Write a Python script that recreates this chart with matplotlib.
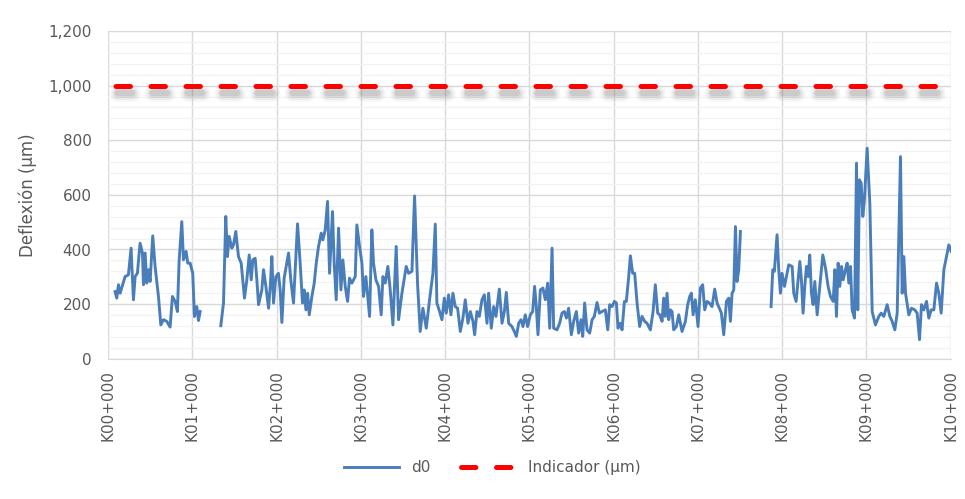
import numpy as np
import matplotlib
matplotlib.use('Agg')
import matplotlib.pyplot as plt
import matplotlib.transforms as mtransforms
from matplotlib.lines import Line2D
from matplotlib.ticker import MultipleLocator, FuncFormatter

plt.rcParams['lines.scale_dashes'] = False

# chainage (km) and deflection d0 (um); nan = no data
km = [0.083, 0.103, 0.123, 0.143, 0.202, 0.241, 0.273, 0.301, 0.321, 0.348,
      0.380, 0.408, 0.420, 0.440, 0.459, 0.479, 0.499, 0.530, 0.558, 0.598,
      0.626, 0.657, 0.697, 0.736, 0.764, 0.796, 0.823, 0.843, 0.875, 0.895,
      0.926, 0.946, 0.974, 1.005, 1.025, 1.053, 1.073, 1.093, 1.200,
      1.338, 1.370, 1.397, 1.417, 1.437, 1.469, 1.489, 1.516, 1.548, 1.580,
      1.619, 1.647, 1.675, 1.699, 1.718, 1.746, 1.766, 1.786, 1.825, 1.845,
      1.873, 1.905, 1.925, 1.944, 1.964, 1.992, 2.022, 2.043, 2.063, 2.090,
      2.114, 2.142, 2.169, 2.201, 2.221, 2.249, 2.280, 2.308, 2.328, 2.348,
      2.368, 2.388, 2.419, 2.447, 2.471, 2.498, 2.530, 2.549, 2.577, 2.605,
      2.629, 2.664, 2.684, 2.708, 2.736, 2.764, 2.787, 2.815, 2.843, 2.866,
      2.894, 2.934, 2.953, 2.985, 3.013, 3.032, 3.060, 3.104, 3.131, 3.151,
      3.179, 3.211, 3.242, 3.262, 3.290, 3.321, 3.349, 3.381, 3.420, 3.448,
      3.488, 3.539, 3.567, 3.607, 3.638, 3.674, 3.705, 3.737, 3.777, 3.816,
      3.856, 3.884, 3.903, 3.935, 3.963, 3.991, 4.014, 4.042, 4.070, 4.093,
      4.121, 4.149, 4.181, 4.212, 4.240, 4.272, 4.300, 4.331, 4.351, 4.379,
      4.407, 4.438, 4.466, 4.498, 4.517, 4.549, 4.577, 4.604, 4.644, 4.676,
      4.704, 4.727, 4.755, 4.794, 4.822, 4.846, 4.874, 4.901, 4.925, 4.952,
      4.980, 5.012, 5.040, 5.063, 5.083, 5.103, 5.131, 5.162, 5.190, 5.218,
      5.242, 5.270, 5.289, 5.329, 5.360, 5.388, 5.416, 5.440, 5.467, 5.499,
      5.527, 5.558, 5.586, 5.614, 5.634, 5.657, 5.685, 5.717, 5.745, 5.772,
      5.804, 5.832, 5.863, 5.903, 5.931, 5.954, 5.982, 6.010, 6.034, 6.053,
      6.081, 6.101, 6.129, 6.152, 6.180, 6.200, 6.227, 6.251, 6.279, 6.310,
      6.338, 6.370, 6.397, 6.437, 6.469, 6.496, 6.524, 6.548, 6.576, 6.595,
      6.615, 6.635, 6.655, 6.675, 6.694, 6.714, 6.746, 6.774, 6.813, 6.853,
      6.880, 6.904, 6.924, 6.944, 6.971, 7.003, 7.031, 7.058, 7.082, 7.110,
      7.137, 7.169, 7.201, 7.229, 7.256, 7.280, 7.308, 7.340, 7.367, 7.387,
      7.407, 7.427, 7.447, 7.466, 7.486, 7.506, 7.700,
      7.870, 7.890, 7.909, 7.941, 7.961, 7.981, 8.000, 8.029, 8.052, 8.080,
      8.120, 8.139, 8.167, 8.191, 8.211, 8.230, 8.250, 8.270, 8.290, 8.310,
      8.329, 8.349, 8.369, 8.389, 8.417, 8.448, 8.484, 8.516, 8.547, 8.575,
      8.607, 8.627, 8.646, 8.666, 8.686, 8.706, 8.726, 8.753, 8.773, 8.793,
      8.813, 8.832, 8.860, 8.884, 8.899, 8.919, 8.939, 8.959, 8.978, 9.010,
      9.042, 9.070, 9.109, 9.149, 9.177, 9.208, 9.248, 9.280, 9.307, 9.339,
      9.367, 9.406, 9.426, 9.446, 9.466, 9.505, 9.537, 9.576, 9.604, 9.632,
      9.655, 9.683, 9.715, 9.742, 9.770, 9.802, 9.834, 9.861, 9.889, 9.921,
      9.952, 9.980, 10.008]
d0 = [246, 222, 271, 240, 301, 307, 405, 216, 301, 313,
      423, 387, 271, 387, 277, 326, 283, 450, 338, 228,
      124, 143, 137, 116, 228, 210, 173, 356, 502, 362,
      393, 350, 350, 313, 155, 191, 140, 173, np.nan,
      121, 204, 521, 374, 448, 405, 417, 466, 374, 350,
      222, 289, 380, 289, 362, 368, 289, 198, 252, 326,
      265, 185, 265, 374, 204, 301, 313, 252, 133, 295,
      338, 387, 289, 204, 326, 494, 350, 204, 252, 179,
      240, 161, 228, 277, 350, 411, 460, 435, 470, 576,
      313, 539, 350, 216, 478, 252, 362, 265, 210, 295,
      277, 301, 490, 411, 350, 228, 301, 155, 472, 350,
      289, 265, 161, 301, 277, 338, 252, 124, 411, 143,
      240, 338, 313, 320, 596, 271, 100, 185, 112, 216,
      313, 493, 204, 173, 143, 222, 167, 234, 161, 240,
      191, 185, 100, 149, 216, 130, 173, 137, 88, 173,
      155, 216, 234, 130, 240, 112, 191, 155, 255, 130,
      173, 243, 130, 118, 100, 82, 130, 143, 118, 161,
      118, 161, 173, 265, 191, 88, 252, 259, 216, 277,
      112, 405, 112, 106, 130, 167, 173, 149, 185, 88,
      137, 173, 94, 143, 82, 204, 106, 94, 143, 155,
      206, 167, 173, 179, 106, 198, 191, 210, 204, 112,
      130, 106, 210, 210, 301, 377, 313, 313, 204, 118,
      155, 137, 130, 106, 173, 271, 167, 161, 137, 222,
      155, 240, 143, 179, 173, 106, 118, 161, 100, 137,
      198, 228, 240, 161, 216, 118, 259, 271, 179, 210,
      204, 191, 255, 204, 185, 167, 88, 210, 222, 137,
      240, 252, 484, 283, 326, 466, np.nan,
      191, 326, 320, 454, 326, 240, 313, 265, 301, 344,
      338, 240, 210, 289, 356, 289, 167, 265, 338, 301,
      380, 240, 198, 283, 161, 265, 380, 332, 265, 228,
      210, 326, 155, 350, 265, 338, 289, 326, 350, 277,
      338, 179, 149, 716, 179, 655, 643, 521, 582, 771,
      570, 173, 124, 155, 167, 155, 198, 155, 137, 106,
      167, 740, 240, 374, 240, 161, 185, 179, 167, 70,
      198, 179, 210, 149, 179, 179, 277, 240, 167, 326,
      374, 417, 393]
indicador = 1000
x_labels = ['K%02d+000' % i for i in range(11)]

fig = plt.figure(figsize=(9.65, 4.99), dpi=100)
ax = fig.add_axes([0.112, 0.281, 0.873, 0.657])

blue, = ax.plot(km, d0, color='#4a7ebb', lw=2.1, label='d0', zorder=3)

# red indicator line, dashed, with a soft grey shadow under it
dash = (19.8, (10.4, 14.8))
tr = ax.transData + mtransforms.ScaledTranslation(2 / 100, -7 / 100, fig.dpi_scale_trans)
for w, a in [(12.0, 0.05), (9.0, 0.07), (6.5, 0.10), (4.5, 0.13)]:
    ax.plot([0, 10], [indicador, indicador], color='#606060', lw=w, alpha=a,
            linestyle=dash, dash_capstyle='round', transform=tr, zorder=2)
ax.plot([0, 10], [indicador, indicador], color='#ff0000', lw=3.6,
        linestyle=dash, dash_capstyle='round', zorder=4)
red = Line2D([], [], color='#ff0000', lw=3.6, linestyle=(0, (10.4, 14.8)),
             dash_capstyle='round', label='Indicador (µm)')

ax.set_xlim(0, 10)
ax.set_ylim(0, 1200)
ax.set_xticks(range(11))
ax.set_xticklabels(x_labels, rotation=90)
ax.yaxis.set_major_locator(MultipleLocator(200))
ax.yaxis.set_minor_locator(MultipleLocator(40))
ax.yaxis.set_major_formatter(FuncFormatter(lambda v, p: '{:,.0f}'.format(v)))

ax.grid(which='major', color='#d9d9d9', lw=1.0, zorder=0)
ax.grid(which='minor', axis='y', color='#f2f2f2', lw=0.9, zorder=0)
ax.set_axisbelow(True)
for s in ['top', 'right', 'left']:
    ax.spines[s].set_visible(False)
ax.spines['bottom'].set_color('#d9d9d9')
ax.tick_params(axis='both', which='both', length=0, colors='#595959', labelsize=11)
ax.tick_params(axis='x', pad=8)
ax.tick_params(axis='y', pad=12)
ax.set_ylabel('Deflexión (µm)', color='#595959', fontsize=12, labelpad=8)

fig.legend(handles=[blue, red], loc='lower center', bbox_to_anchor=(0.51, 0.02),
           ncol=2, frameon=False, fontsize=11, labelcolor='#595959',
           handlelength=3.6, columnspacing=2.0)

fig.savefig('out.png', dpi=100)
